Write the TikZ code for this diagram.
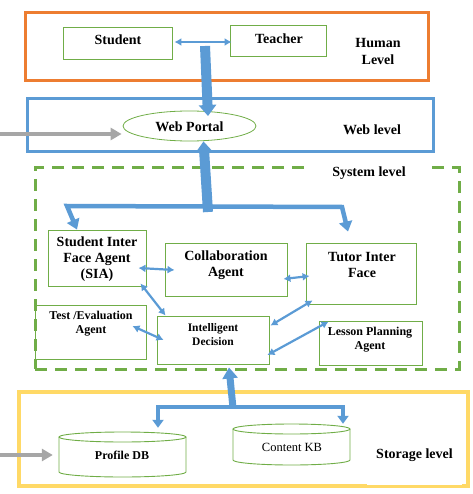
\documentclass[tikz,border=0pt]{standalone}
\usepackage{fontspec}
\setmainfont{Liberation Serif}
\usetikzlibrary{shapes.geometric,arrows.meta,calc}
\definecolor{lvlorange}{RGB}{237,125,49}
\definecolor{lvlblue}{RGB}{91,155,213}
\definecolor{lvlgreen}{RGB}{112,173,71}
\definecolor{lvlyellow}{RGB}{255,217,102}
\definecolor{feedgray}{RGB}{166,166,166}
\newcommand{\fs}[2]{\fontsize{#1}{#2}\selectfont}
\begin{document}
\begin{tikzpicture}[x=1pt,y=-1pt,
  level/.style={draw, line width=3pt, inner sep=0pt},
  agent/.style={draw=lvlgreen, line width=0.9pt, inner sep=0pt},
  lbl/.style={font=\bfseries, align=center, inner sep=0pt},
  link/.style={draw=lvlblue, line width=2.2pt, {Latex[length=7pt,width=8pt]}-{Latex[length=7pt,width=8pt]}},
  branch/.style={draw=lvlblue, line width=4.5pt, {Triangle[length=10pt,width=13pt]}-{Triangle[length=10pt,width=13pt]}},
  storebranch/.style={draw=lvlblue, line width=3.5pt, {Triangle[length=8pt,width=11pt]}-{Triangle[length=8pt,width=11pt]}},
  bigarrow/.style={draw=lvlblue, line width=10pt, -{Triangle[length=11pt,width=17pt]}},
  feed/.style={draw=feedgray, line width=4.5pt, -{Triangle[length=11pt,width=12pt]}},
  db/.style={draw=lvlgreen, line width=0.9pt}
]
\useasboundingbox (0,0) rectangle (472,494);

% ---- level frames ----
\node[level, draw=lvlorange, minimum width=403, minimum height=68] (human) at (226.5,47) {};
\node[level, draw=lvlblue, minimum width=406, minimum height=53] (web) at (230,125.5) {};
\node[level, draw=lvlgreen, dash pattern=on 12pt off 8pt, minimum width=424, minimum height=201] (sys) at (247,268.5) {};
\node[level, draw=lvlyellow, line width=4pt, minimum width=449, minimum height=94] (storage) at (243.5,439) {};

% ---- level captions ----
\node[lbl, font=\bfseries\fs{14}{17}] (humanlbl) at (378,51.5) {Human\\Level};
\node[lbl, font=\bfseries\fs{14}{16}] (weblbl) at (372,130) {Web level};
\node[lbl, font=\bfseries\fs{14}{16}, fill=white, minimum width=122, minimum height=22] (syslbl) at (369,173) {System level};
\node[lbl, font=\bfseries\fs{14}{16}, fill=white, minimum width=95, minimum height=60] (storelbl) at (414.5,455) {Storage level};

% ---- human level ----
\node[agent, minimum width=109, minimum height=32] (student) at (117.5,43) {};
\node[lbl, font=\bfseries\fs{14}{16}] (studentlbl) at (118,40) {Student};
\node[agent, minimum width=96, minimum height=31] (teacher) at (278,40.5) {};
\node[lbl, font=\bfseries\fs{14}{16}] (teacherlbl) at (279,39) {Teacher};

% ---- web level ----
\node[ellipse, draw=lvlgreen, line width=0.8pt, minimum width=133, minimum height=30, inner sep=0pt] (portal) at (189.5,126) {};
\node[lbl, font=\bfseries\fs{14}{16}] (portallbl) at (189.5,127) {Web Portal};

% ---- system level agents ----
\node[agent, minimum width=98, minimum height=56] (sia) at (97,258) {};
\node[lbl, font=\bfseries\fs{14}{16}] (sialbl) at (97,259) {Student Inter\\Face Agent\\(SIA)};
\node[agent, minimum width=122, minimum height=53] (collab) at (226,269.5) {};
\node[lbl, font=\bfseries\fs{14}{16}] (collablbl) at (226,265) {Collaboration\\Agent};
\node[agent, minimum width=110, minimum height=61] (tutor) at (361,273.5) {};
\node[lbl, font=\bfseries\fs{14}{16}] (tutorlbl) at (362,265) {Tutor Inter\\Face};
\node[agent, minimum width=111, minimum height=54] (test) at (90.5,332) {};
\node[lbl, font=\bfseries\fs{12}{14}] (testlbl) at (91,324) {Test /Evaluation\\Agent};
\node[agent, minimum width=112, minimum height=48] (intel) at (213,340) {};
\node[lbl, font=\bfseries\fs{11.5}{14}] (intellbl) at (213,335) {Intelligent\\Decision};
\node[agent, minimum width=103, minimum height=44] (lesson) at (370.5,343) {};
\node[lbl, font=\bfseries\fs{12}{14}] (lessonlbl) at (370,340) {Lesson Planning\\Agent};

% ---- storage level databases ----
\node[minimum width=127, minimum height=45, inner sep=0pt] (profile) at (122.5,454.5) {};
\draw[db] (59,437) -- (59,472) arc[start angle=180, end angle=0, x radius=63.5, y radius=5] -- (186,437);
\draw[db] (122.5,437) ellipse [x radius=63.5, y radius=5];
\node[lbl, font=\bfseries\fs{12}{14}] (profilelbl) at (122,455) {Profile DB};
\node[minimum width=117, minimum height=41, inner sep=0pt] (content) at (291.5,444.5) {};
\draw[db] (233,429) -- (233,460) arc[start angle=180, end angle=0, x radius=58.5, y radius=5] -- (350,429);
\draw[db] (291.5,429) ellipse [x radius=58.5, y radius=5];
\node[lbl, font=\fs{12.5}{14}] (contentlbl) at (292,447) {Content KB};

% ---- hub points of the block arrows ----
\coordinate (handoff) at (205,46);
\coordinate (syshub) at (208,212);
\coordinate (storehub) at (233,408);
\coordinate (feedweb) at (0,134);
\coordinate (feedstore) at (0,455);

% ---- connectors ----
\draw[link] ($(student.east)+(2,-1)$) -- ($(teacher.west)+(2,1.5)$);
\draw[bigarrow] (handoff) -- ($(portal.center)+(18.5,-10)$);
\draw[bigarrow] (syshub) -- ($(portal.south)+(14,0)$);
\draw[branch] ($(sia.north)+(-20,0)$) -- (67,206) -- (342,207) -- ($(tutor.north)+(-13,-11)$);
\draw[link] ($(sia.east)+(-8,10)$) -- ($(collab.west)+(10,0.5)$);
\draw[link] ($(collab.east)+(-4,9.5)$) -- ($(tutor.west)+(4,2.5)$);
\draw[link] ($(sia.south east)+(-6,-3)$) -- ($(intel.north west)+(9,0)$);
\draw[link] ($(test.east)+(-14,-6)$) -- ($(intel.west)+(7,0)$);
\draw[link] ($(tutor.south west)+(7,-4)$) -- ($(intel.north east)+(1,10)$);
\draw[link] ($(lesson.north west)+(10,1)$) -- ($(intel.east)+(-2,15)$);
\draw[bigarrow, line width=7pt, -{Triangle[length=11pt,width=15pt]}] (storehub) -- ($(intel.south)+(16,3)$);
\draw[storebranch] ($(profile.north)+(35.5,-4)$) -- (158,407) -- (343,407) -- ($(content.north)+(51.5,0)$);
\draw[feed] (feedweb) -- ($(portal.west)+(-1,8)$);
\draw[feed] (feedstore) -- ($(profile.west)+(-6,0.5)$);
\end{tikzpicture}
\end{document}
